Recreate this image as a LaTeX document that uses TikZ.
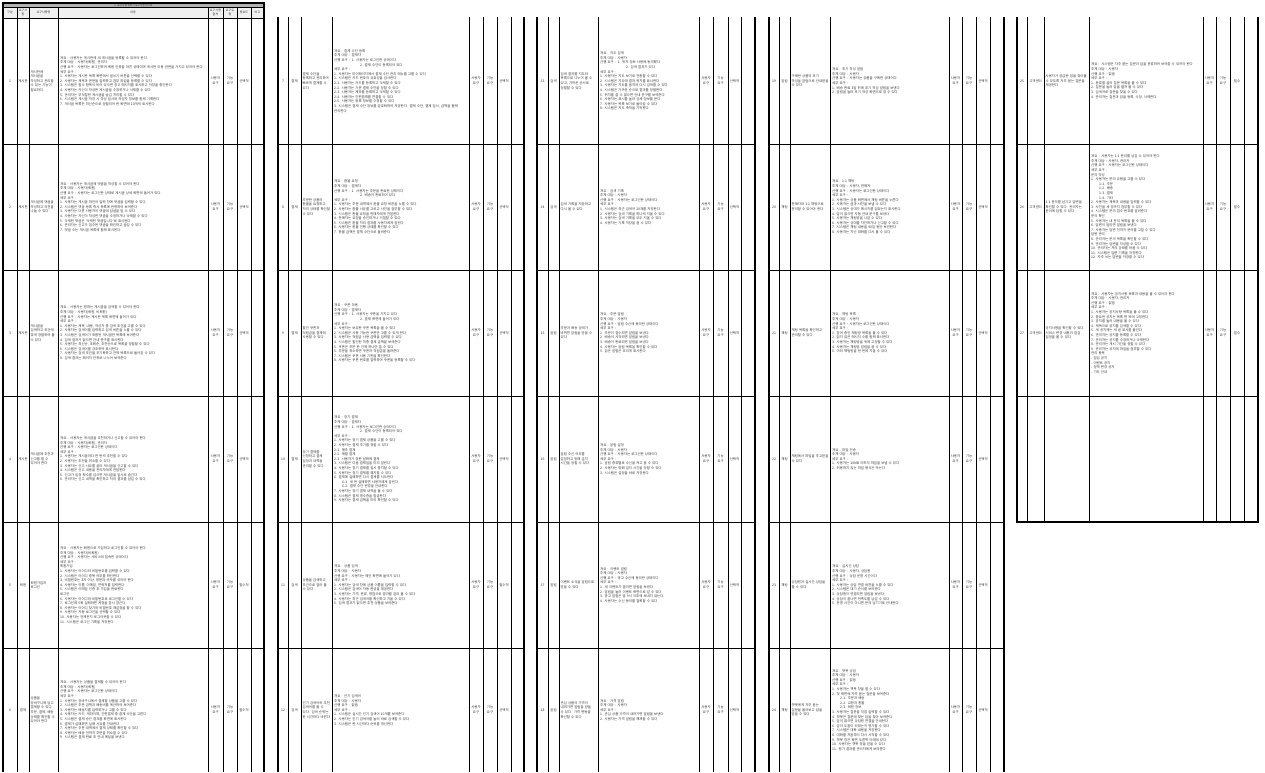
\documentclass[tikz,border=0pt]{standalone}
\usepackage{fontspec}
\usepackage{tikz}
\newfontfamily\krfont{Noto Sans CJK KR}

\tikzset{
  thinrule/.style={line width=0.9pt},
  thickrule/.style={line width=2.6pt},
  cellc/.style={inner sep=0pt, align=center, text=black!80,
    font=\krfont\fontsize{3.4}{4.6}\selectfont},
  celll/.style={inner sep=0pt, anchor=west, align=left, text=black!80,
    font=\krfont\fontsize{3.4}{4.6}\selectfont},
  headc/.style={inner sep=0pt, align=center, text=black!80,
    font=\krfont\fontsize{3}{3.8}\selectfont},
}

% colonnes du cadre courant
\newcommand{\setcols}[9]{\def\colA{#1}\def\colB{#2}\def\colC{#3}\def\colD{#4}%
  \def\colE{#5}\def\colF{#6}\def\colG{#7}\def\colH{#8}\def\colI{#9}}

% une ligne du tableau
\newcommand{\reqrow}[7]{%
  \pgfmathsetlengthmacro\namew{(\colD-\colC-3)*1pt}%
  \pgfmathsetlengthmacro\bodyw{(\colE-\colD-4)*1pt}%
  \node[cellc] (num#1) at ({(\colA+\colB)/2},#2) {#3};
  \node[cellc] (cat#1) at ({(\colB+\colC)/2},#2) {#4};
  \node[celll, text width=\namew] (name#1) at ({\colC+1.5},#2) {#5};
  \node[celll, text width=\bodyw] (body#1) at ({\colD+2},#2) {#6};
  \node[cellc] (src#1) at ({(\colE+\colF)/2},#2) {사용자\\요구};
  \node[cellc] (type#1) at ({(\colF+\colG)/2},#2) {기능\\요구};
  \node[cellc] (prio#1) at ({(\colG+\colH)/2},#2) {#7};
}

\begin{document}
\begin{tikzpicture}[x=1pt, y=-1pt]
    \useasboundingbox (0,0) rectangle (1265,772);

    % Cadre 1 : titre et en-tete
    \fill[black!30] (3,3) rectangle (264,7.5);
    \fill[black!6] (3,7.5) rectangle (264,18);
    \node[headc, font=\krfont\fontsize{2.6}{3}\selectfont] (title) at (133.5,5.3) {1. 요구사항 정의서 요구사항 리스트};
    \node[headc] (hnum) at (10,12.7) {구분};
    \node[headc] (hcat) at (23,12.7) {요구사\\항};
    \node[headc] (hname) at (43.5,12.7) {요구사항명};
    \node[headc] (hbody) at (133,12.7) {내용};
    \node[headc] (hsrc) at (215.5,12.7) {요구사항\\출처};
    \node[headc] (htype) at (230,12.7) {요구유\\형};
    \node[headc] (hprio) at (244,12.7) {중요도};
    \node[headc] (hnote) at (257.5,12.7) {비고};
    \draw[thinrule] (3,7.5) -- (264,7.5);
    \draw[thinrule] (3,18) -- (264,18);

    % Cadre 1
    \setcols{3}{17}{29}{58}{208}{223}{237}{251}{264}
    \foreach \x in {17,29,58,208,223,237,251} \draw[thinrule] (\x,7.5) -- (\x,772);
    \foreach \y in {144,270,396,522,648} \draw[thinrule] (3,\y) -- (264,\y);
    \draw[thickrule] (3,772) -- (3,3) -- (264,3) -- (264,772);

    \reqrow{1}{81}{1}{게시판}{게시판에 게시글을 작성하고 관리할 수 있는 기능이 필요하다}{개요 : 사용자는 게시판에 새 게시글을 등록할 수 있어야 한다\\주체 대상 : 사용자(회원), 관리자\\선행 요구 : 사용자는 로그인하여 회원 인증을 마친 상태이며 게시판 이용 권한을 가지고 있어야 한다\\세부 요구 :\\1. 사용자는 게시판 목록 화면에서 글쓰기 버튼을 선택할 수 있다\\2. 사용자는 제목과 본문을 입력하고 첨부 파일을 등록할 수 있다\\3. 시스템은 필수 항목이 비어 있으면 경고 메시지를 표시하고 저장을 중단한다\\4. 사용자는 자신이 작성한 게시글을 수정하거나 삭제할 수 있다\\5. 관리자는 부적절한 게시글을 숨김 처리할 수 있다\\6. 시스템은 게시글 저장 시 작성 일시와 작성자 정보를 함께 기록한다\\7. 게시글 목록은 최신순으로 정렬되어 한 화면에 10개씩 표시된다}{선택적}
    \reqrow{2}{207}{2}{게시판}{게시글에 댓글을 작성하고 의견을 나눌 수 있다}{개요 : 사용자는 게시글에 댓글을 작성할 수 있어야 한다\\주체 대상 : 사용자(회원)\\선행 요구 : 사용자는 로그인한 상태로 게시글 상세 화면에 들어가 있다\\세부 요구 :\\1. 사용자는 게시글 하단의 입력 창에 댓글을 입력할 수 있다\\2. 시스템은 댓글 등록 즉시 목록에 반영하여 보여준다\\3. 사용자는 다른 사용자의 댓글에 답글을 달 수 있다\\4. 사용자는 자신이 작성한 댓글을 수정하거나 삭제할 수 있다\\5. 삭제된 댓글은 '삭제된 댓글입니다'로 표시된다\\6. 관리자는 신고가 접수된 댓글을 확인하고 숨길 수 있다\\7. 댓글 수는 게시글 목록에 함께 표시된다}{선택적}
    \reqrow{3}{333}{3}{게시판}{게시글을 검색하고 조건에 맞게 정렬하여 볼 수 있다}{개요 : 사용자는 원하는 게시글을 검색할 수 있어야 한다\\주체 대상 : 사용자(회원, 비회원)\\선행 요구 : 사용자는 게시판 목록 화면에 들어가 있다\\세부 요구 :\\1. 사용자는 제목, 내용, 작성자 중 검색 조건을 고를 수 있다\\2. 사용자는 검색어를 입력하고 검색 버튼을 누를 수 있다\\3. 시스템은 검색어가 포함된 게시글만 목록에 보여준다\\4. 검색 결과가 없으면 안내 문구를 표시한다\\5. 사용자는 최신순, 조회순, 추천순으로 목록을 정렬할 수 있다\\6. 시스템은 검색어를 강조하여 표시한다\\7. 사용자는 검색 조건을 초기화하고 전체 목록으로 돌아갈 수 있다\\8. 검색 결과는 페이지 단위로 나누어 보여준다}{선택적}
    \reqrow{4}{459}{4}{게시판}{게시글에 추천과 신고를 할 수 있어야 한다}{개요 : 사용자는 게시글을 추천하거나 신고할 수 있어야 한다\\주체 대상 : 사용자(회원), 관리자\\선행 요구 : 사용자는 로그인한 상태이다\\세부 요구 :\\1. 사용자는 게시글마다 한 번씩 추천할 수 있다\\2. 사용자는 추천을 취소할 수 있다\\3. 사용자는 신고 사유를 골라 게시글을 신고할 수 있다\\4. 시스템은 신고 내용을 관리자에게 전달한다\\5. 신고가 일정 횟수를 넘으면 게시글을 임시로 숨긴다\\6. 관리자는 신고 내역을 확인하고 처리 결과를 남길 수 있다}{선택적}
    \reqrow{5}{585}{5}{회원}{회원가입과 로그인}{개요 : 사용자는 회원으로 가입하고 로그인할 수 있어야 한다\\주체 대상 : 사용자(비회원)\\선행 요구 : 사용자는 서비스에 접속한 상태이다\\세부 요구 :\\회원가입\\1. 사용자는 아이디와 비밀번호를 입력할 수 있다\\2. 시스템은 아이디 중복 여부를 확인한다\\3. 비밀번호는 8자 이상, 영문과 숫자를 섞어야 한다\\4. 사용자는 이름, 이메일, 연락처를 입력한다\\5. 시스템은 이메일 인증 후 가입을 완료한다\\로그인\\6. 사용자는 아이디와 비밀번호로 로그인할 수 있다\\7. 로그인에 5회 실패하면 계정을 잠시 잠근다\\8. 사용자는 아이디 찾기와 비밀번호 재설정을 할 수 있다\\9. 사용자는 자동 로그인을 선택할 수 있다\\10. 사용자는 언제든지 로그아웃할 수 있다\\11. 시스템은 로그인 기록을 저장한다}{필수적}
    \reqrow{6}{710}{6}{결제}{상품을 장바구니에 담고 결제할 수 있다. 주문, 결제, 배송 상태를 확인할 수 있어야 한다}{개요 : 사용자는 상품을 결제할 수 있어야 한다\\주체 대상 : 사용자(회원)\\선행 요구 : 사용자는 로그인한 상태이다\\세부 요구 :\\1. 사용자는 장바구니에서 결제할 상품을 고를 수 있다\\2. 시스템은 주문 금액과 배송비를 계산하여 보여준다\\3. 사용자는 배송지를 입력하거나 고를 수 있다\\4. 사용자는 카드, 계좌이체, 간편결제 중 결제 수단을 고른다\\5. 시스템은 결제 승인 결과를 화면에 표시한다\\6. 결제가 실패하면 실패 사유를 안내한다\\7. 사용자는 주문 내역에서 결제 상태를 확인할 수 있다\\8. 사용자는 배송 전까지 주문을 취소할 수 있다\\9. 시스템은 결제 완료 후 안내 메일을 보낸다}{필수적}

    % Cadre 2
    \setcols{278}{288}{301}{332}{469}{483}{497}{511}{524}
    \foreach \x in {288,301,332,469,483,497,511} \draw[thinrule] (\x,17) -- (\x,772);
    \foreach \y in {144,270,396,522,648} \draw[thinrule] (278,\y) -- (524,\y);
    \draw[thickrule] (278,17) -- (278,772);
    \draw[thickrule] (524,17) -- (524,772);

    \reqrow{7}{81}{7}{결제}{결제 수단을 등록하고 관리하여 빠르게 결제할 수 있다}{개요 : 결제 수단 등록\\주체 대상 : 결제자\\선행 요구 : 1. 사용자는 로그인한 상태이다\\\hspace{26pt}2. 결제 수단이 등록되어 있다\\세부 요구 :\\1. 사용자는 마이페이지에서 결제 수단 관리 메뉴를 고를 수 있다\\2. 시스템은 카드 번호의 유효성을 검사한다\\2-1. 사용자는 카드를 등록하고 삭제할 수 있다\\2-2. 사용자는 기본 결제 수단을 정할 수 있다\\2-3. 사용자는 계좌를 등록하고 삭제할 수 있다\\2-4. 사용자는 간편결제를 연결할 수 있다\\2-5. 사용자는 등록 정보를 수정할 수 있다\\3. 시스템은 결제 수단 정보를 암호화하여 저장한다. 결제 수단, 결제 일시, 금액을 함께 관리한다}{선택적}
    \reqrow{8}{207}{8}{결제}{주문한 상품의 환불을 요청하고 처리 상태를 확인할 수 있다}{개요 : 환불 요청\\주체 대상 : 결제자\\선행 요구 : 1. 사용자는 주문을 완료한 상태이다\\\hspace{26pt}2. 배송이 완료되어 있다\\세부 요구 :\\1. 사용자는 주문 내역에서 환불 요청 버튼을 누를 수 있다\\2. 사용자는 환불 사유를 고르고 사진을 첨부할 수 있다\\3. 시스템은 환불 요청을 판매자에게 전달한다\\4. 판매자는 요청을 승인하거나 거절할 수 있다\\5. 시스템은 환불 처리 결과를 사용자에게 알린다\\6. 사용자는 환불 진행 상태를 확인할 수 있다\\7. 환불 금액은 결제 수단으로 돌려준다}{선택적}
    \reqrow{9}{333}{9}{결제}{할인 쿠폰과 적립금을 결제에 사용할 수 있다}{개요 : 쿠폰 적용\\주체 대상 : 결제자\\선행 요구 : 1. 사용자는 쿠폰을 가지고 있다\\\hspace{26pt}2. 결제 화면에 들어가 있다\\세부 요구 :\\1. 사용자는 보유한 쿠폰 목록을 볼 수 있다\\2. 시스템은 사용 가능한 쿠폰만 고를 수 있게 한다\\3. 사용자는 적립금 사용 금액을 입력할 수 있다\\4. 시스템은 할인된 최종 결제 금액을 보여준다\\5. 쿠폰은 주문 한 건에 하나만 쓸 수 있다\\6. 주문을 취소하면 쿠폰과 적립금을 돌려준다\\7. 시스템은 쿠폰 사용 기한을 확인한다\\8. 사용자는 쿠폰 번호를 입력하여 쿠폰을 등록할 수 있다}{선택적}
    \reqrow{10}{459}{10}{결제}{정기 결제를 신청하고 결제 일정과 내역을 관리할 수 있다}{개요 : 정기 결제\\주체 대상 : 결제자\\선행 요구 : 1. 사용자는 로그인한 상태이다\\\hspace{26pt}2. 결제 수단이 등록되어 있다\\세부 요구 :\\1. 사용자는 정기 결제 상품을 고를 수 있다\\2. 사용자는 결제 주기를 정할 수 있다\\2-1. 매주 결제\\2-2. 매월 결제\\2-3. 사용자가 정한 날짜에 결제\\3. 시스템은 다음 결제일을 미리 알린다\\4. 사용자는 정기 결제를 일시 중지할 수 있다\\5. 사용자는 정기 결제를 해지할 수 있다\\6. 결제에 실패하면 다시 결제를 시도한다\\\hspace{8pt}6-1. 세 번 실패하면 사용자에게 알린다\\\hspace{8pt}6-2. 결제 수단 변경을 안내한다\\7. 사용자는 정기 결제 내역을 볼 수 있다\\8. 시스템은 결제 영수증을 발급한다\\9. 사용자는 결제 금액을 미리 확인할 수 있다}{선택적}
    \reqrow{11}{585}{11}{검색}{상품을 검색하고 조건으로 걸러 볼 수 있다}{개요 : 상품 검색\\주체 대상 : 사용자\\선행 요구 : 사용자는 메인 화면에 들어가 있다\\세부 요구 :\\1. 사용자는 검색 창에 상품 이름을 입력할 수 있다\\2. 시스템은 검색어 자동 완성을 제공한다\\3. 사용자는 가격, 분류, 평점으로 결과를 걸러 볼 수 있다\\4. 사용자는 최근 검색어를 확인하고 지울 수 있다\\5. 검색 결과가 없으면 추천 상품을 보여준다}{필수적}
    \reqrow{12}{710}{12}{검색}{인기 검색어와 추천 검색어를 볼 수 있다. 검색 순위는 한 시간마다 바뀐다}{개요 : 인기 검색어\\주체 대상 : 사용자\\선행 요구 : 없음\\세부 요구 :\\1. 시스템은 실시간 인기 검색어 10개를 보여준다\\2. 사용자는 인기 검색어를 눌러 바로 검색할 수 있다\\3. 시스템은 한 시간마다 순위를 갱신한다}{선택적}

    % Cadre 3
    \setcols{537}{548}{559}{598}{699}{713}{728}{741}{755}
    \foreach \x in {548,559,598,699,713,728,741} \draw[thinrule] (\x,17) -- (\x,772);
    \foreach \y in {144,270,396,522,648} \draw[thinrule] (537,\y) -- (755,\y);
    \draw[thickrule] (537,17) -- (537,772);
    \draw[thickrule] (755,17) -- (755,772);

    \reqrow{13}{81}{13}{검색}{검색 결과를 지도와 목록으로 나누어 볼 수 있고, 가까운 순서로 정렬할 수 있다}{개요 : 지도 검색\\주체 대상 : 사용자\\선행 요구 : 1. 위치 정보 사용에 동의했다\\\hspace{26pt}2. 검색 결과가 있다\\세부 요구 :\\1. 사용자는 지도 보기로 전환할 수 있다\\2. 시스템은 지도에 결과 위치를 표시한다\\3. 사용자는 지도를 움직여 다시 검색할 수 있다\\4. 시스템은 가까운 순으로 결과를 정렬한다\\5. 위치를 쓸 수 없으면 안내 문구를 보여준다\\6. 사용자는 표시를 눌러 상세 정보를 본다\\7. 사용자는 목록 보기로 돌아갈 수 있다\\8. 시스템은 지도 축척을 기억한다}{선택적}
    \reqrow{14}{207}{14}{검색}{검색 기록을 저장하고 다시 볼 수 있다}{개요 : 검색 기록\\주체 대상 : 사용자\\선행 요구 : 사용자는 로그인한 상태이다\\세부 요구 :\\1. 시스템은 최근 검색어 20개를 저장한다\\2. 사용자는 검색 기록을 하나씩 지울 수 있다\\3. 사용자는 검색 기록을 모두 지울 수 있다\\4. 사용자는 기록 저장을 끌 수 있다}{선택적}
    \reqrow{15}{333}{15}{알림}{주문과 배송 상태가 바뀌면 알림을 받을 수 있다}{개요 : 주문 알림\\주체 대상 : 사용자\\선행 요구 : 알림 수신에 동의한 상태이다\\세부 요구 :\\1. 주문이 접수되면 알림을 보낸다\\2. 배송이 시작되면 알림을 보낸다\\3. 배송이 완료되면 알림을 보낸다\\4. 사용자는 알림 목록을 확인할 수 있다\\5. 읽은 알림은 흐리게 표시한다}{선택적}
    \reqrow{16}{459}{16}{알림}{알림 수신 여부를 설정하고 방해 금지 시간을 정할 수 있다}{개요 : 알림 설정\\주체 대상 : 사용자\\선행 요구 : 사용자는 로그인한 상태이다\\세부 요구 :\\1. 알림 종류별로 수신을 켜고 끌 수 있다\\2. 사용자는 방해 금지 시간을 정할 수 있다\\3. 시스템은 설정을 바로 저장한다}{선택적}
    \reqrow{17}{585}{17}{알림}{이벤트 소식을 알림으로 받을 수 있다}{개요 : 이벤트 알림\\주체 대상 : 사용자\\선행 요구 : 광고 수신에 동의한 상태이다\\세부 요구 :\\1. 새 이벤트가 열리면 알림을 보낸다\\2. 알림을 눌러 이벤트 화면으로 갈 수 있다\\3. 광고 알림은 밤 9시 이후에 보내지 않는다\\4. 사용자는 수신 동의를 철회할 수 있다}{선택적}
    \reqrow{18}{710}{18}{알림}{관심 상품의 가격이 내려가면 알림을 받을 수 있다. 가격 변동을 확인할 수 있다}{개요 : 가격 알림\\주체 대상 : 사용자\\세부 요구 :\\1. 관심 상품 가격이 내려가면 알림을 보낸다\\2. 사용자는 가격 알림을 해제할 수 있다}{선택적}

    % Cadre 4
    \setcols{769}{779}{790}{830}{949}{962}{976}{990}{1004}
    \foreach \x in {779,790,830,949,962,976,990} \draw[thinrule] (\x,17) -- (\x,772);
    \foreach \y in {144,270,396,522,648} \draw[thinrule] (769,\y) -- (1004,\y);
    \draw[thickrule] (769,17) -- (769,772);
    \draw[thickrule] (1004,17) -- (1004,772);

    \reqrow{19}{81}{19}{알림}{구매한 상품의 후기 작성을 알림으로 안내받을 수 있다}{개요 : 후기 작성 알림\\주체 대상 : 사용자\\선행 요구 : 사용자는 상품을 구매한 상태이다\\세부 요구 :\\1. 배송 완료 3일 뒤에 후기 작성 알림을 보낸다\\2. 알림을 눌러 후기 작성 화면으로 갈 수 있다}{선택적}
    \reqrow{20}{207}{20}{채팅}{판매자와 1:1 채팅으로 문의할 수 있어야 한다}{개요 : 1:1 채팅\\주체 대상 : 사용자, 판매자\\선행 요구 : 사용자는 로그인한 상태이다\\세부 요구 :\\1. 사용자는 상품 화면에서 채팅 버튼을 누른다\\2. 사용자는 글과 사진을 보낼 수 있다\\3. 시스템은 상대가 메시지를 읽었는지 표시한다\\4. 답이 없으면 자동 안내 문구를 보낸다\\5. 사용자는 채팅방을 나갈 수 있다\\6. 사용자는 상대를 차단하거나 신고할 수 있다\\7. 시스템은 채팅 내용을 90일 동안 보관한다\\8. 사용자는 지난 대화를 다시 볼 수 있다}{선택적}
    \reqrow{21}{333}{21}{채팅}{채팅 목록을 확인하고 관리할 수 있다}{개요 : 채팅 목록\\주체 대상 : 사용자\\선행 요구 : 사용자는 로그인한 상태이다\\세부 요구 :\\1. 참여 중인 채팅방 목록을 볼 수 있다\\2. 읽지 않은 메시지 수를 함께 표시한다\\3. 사용자는 채팅방을 위에 고정할 수 있다\\4. 사용자는 채팅방 알림을 끌 수 있다\\5. 여러 채팅방을 한 번에 지울 수 있다}{선택적}
    \reqrow{22}{459}{22}{채팅}{채팅에서 파일을 주고받을 수 있다}{개요 : 파일 전송\\주체 대상 : 사용자\\세부 요구 :\\1. 사용자는 10MB 이하의 파일을 보낼 수 있다\\2. 허용하지 않는 파일 형식은 막는다}{선택적}
    \reqrow{23}{585}{23}{채팅}{상담원과 실시간 상담을 할 수 있다}{개요 : 실시간 상담\\주체 대상 : 사용자, 상담원\\선행 요구 : 상담 운영 시간이다\\세부 요구 :\\1. 사용자는 상담 연결 버튼을 누를 수 있다\\2. 시스템은 대기 순서를 보여준다\\3. 상담원이 연결되면 알림을 보낸다\\4. 상담이 끝나면 만족도를 남길 수 있다\\5. 운영 시간이 아니면 문의 남기기로 안내한다}{선택적}
    \reqrow{24}{710}{24}{채팅}{챗봇에게 자주 묻는 질문을 물어보고 답을 받을 수 있다}{개요 : 챗봇 상담\\주체 대상 : 사용자\\선행 요구 : 없음\\세부 요구 :\\1. 사용자는 챗봇 창을 열 수 있다\\2. 첫 화면에 자주 묻는 질문을 보여준다\\\hspace{8pt}2-1. 주문과 배송\\\hspace{8pt}2-2. 교환과 환불\\\hspace{8pt}2-3. 회원 정보\\3. 사용자는 질문을 직접 입력할 수 있다\\4. 챗봇은 질문에 맞는 답을 찾아 보여준다\\5. 답이 없으면 상담원 연결을 안내한다\\6. 답이 도움이 되었는지 평가할 수 있다\\7. 시스템은 대화 내용을 저장한다\\8. 대화를 처음부터 다시 시작할 수 있다\\9. 챗봇 창은 화면 오른쪽 아래에 있다\\10. 사용자는 챗봇 창을 닫을 수 있다\\11. 평가 결과를 관리자에게 보여준다}{선택적}

    % Cadre 5
    \setcols{1017}{1027}{1044}{1089}{1203}{1216}{1230}{1244}{1258}
    \foreach \x in {1027,1044,1089,1203,1216,1230,1244} \draw[thinrule] (\x,17) -- (\x,522);
    \foreach \y in {144,270,396} \draw[thinrule] (1017,\y) -- (1258,\y);
    \draw[thickrule] (1017,17) -- (1017,522) -- (1258,522) -- (1258,17);

    \reqrow{25}{81}{25}{고객센터}{사용자가 궁금한 점을 찾아볼 수 있도록 자주 묻는 질문을 제공한다}{개요 : 시스템은 자주 묻는 질문과 답을 분류하여 보여줄 수 있어야 한다\\주체 대상 : 사용자\\선행 요구 : 없음\\세부 요구 :\\1. 분류를 골라 질문 목록을 볼 수 있다\\2. 질문을 눌러 답을 펼쳐 볼 수 있다\\3. 검색어로 질문을 찾을 수 있다\\4. 관리자는 질문과 답을 등록, 수정, 삭제한다}{필수}
    \reqrow{26}{207}{26}{고객센터}{1:1 문의를 남기고 답변을 확인할 수 있다. 관리자는 문의에 답할 수 있다}{개요 : 사용자는 1:1 문의를 남길 수 있어야 한다\\주체 대상 : 사용자, 관리자\\선행 요구 : 사용자는 로그인한 상태이다\\세부 요구 :\\문의 작성\\1. 사용자는 문의 유형을 고를 수 있다\\\hspace{8pt}1-1. 주문\\\hspace{8pt}1-2. 배송\\\hspace{8pt}1-3. 결제\\\hspace{8pt}1-4. 기타\\2. 사용자는 제목과 내용을 입력할 수 있다\\3. 사진을 세 장까지 첨부할 수 있다\\4. 시스템은 문의 접수 번호를 알려준다\\문의 확인\\5. 사용자는 내 문의 목록을 볼 수 있다\\6. 답변이 달리면 알림을 보낸다\\7. 사용자는 답변 전까지 문의를 고칠 수 있다\\답변 관리\\8. 관리자는 문의 목록을 확인할 수 있다\\9. 관리자는 답변을 작성할 수 있다\\10. 관리자는 처리 상태를 바꿀 수 있다\\11. 시스템은 답변 기록을 저장한다\\12. 자주 쓰는 답변을 저장할 수 있다}{필수}
    \reqrow{27}{333}{27}{고객센터}{공지사항을 확인할 수 있다. 서비스 변경 내용과 점검 일정을 볼 수 있다}{개요 : 사용자는 공지사항 목록과 내용을 볼 수 있어야 한다\\주체 대상 : 사용자, 관리자\\선행 요구 : 없음\\세부 요구 :\\1. 사용자는 공지사항 목록을 볼 수 있다\\2. 중요한 공지는 목록 맨 위에 고정한다\\3. 공지를 눌러 내용을 볼 수 있다\\4. 제목으로 공지를 검색할 수 있다\\5. 새 공지에는 새 글 표시를 붙인다\\6. 관리자는 공지를 등록할 수 있다\\7. 관리자는 공지를 수정하거나 삭제한다\\8. 관리자는 게시 기간을 정할 수 있다\\9. 관리자는 공지에 파일을 첨부할 수 있다\\관리 항목\\- 점검 공지\\- 이벤트 공지\\- 정책 변경 공지\\- 기타 안내}{필수}
\end{tikzpicture}
\end{document}
